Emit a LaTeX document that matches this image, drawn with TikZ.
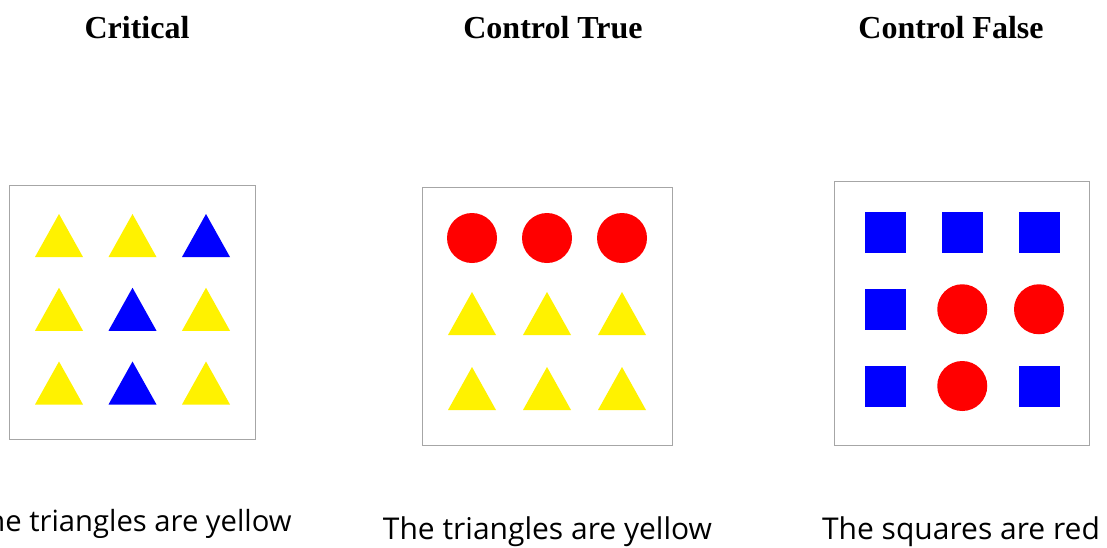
\documentclass[tikz,border=0pt]{standalone}
\usepackage{fontspec}
\usepackage{tikz}
\usetikzlibrary{positioning, shapes.geometric}
\newfontfamily\headfont{Liberation Serif}
\newfontfamily\capfont{Open Sans}
\tikzset{
  title/.style={anchor=base, inner sep=0pt, font=\headfont\fontsize{16}{19}\selectfont\bfseries},
  caption/.style={anchor=base, inner sep=0pt, text=black, font=\capfont\fontsize{15}{18}\selectfont},
  panel/.style={draw=black!35, line width=0.5pt, fill=white},
  dot/.style={circle, fill=red, inner sep=0pt, minimum size=25pt},
  sq/.style={rectangle, fill=blue, inner sep=0pt, minimum size=20.5pt},
  pics/tri/.style={code={
    \fill[pic actions] (-24,21.5) -- (24,21.5) -- (0,-21.5) -- cycle;
  }}
}

\begin{document}
\begin{tikzpicture}[x=0.5pt, y=-0.5pt]
  \useasboundingbox (0,0) rectangle (1107,547);
  \clip (0,0) rectangle (1107,547);

  % titles
  \node[title] (tcrit) at (137,38) {Critical};
  \node[title] (ttrue) at (553,38) {Control True};
  \node[title] (tfalse) at (951,38) {Control False};

  % panel 1
  \draw[panel] (9,185) rectangle (255,439);
  \foreach \c/\r/\col in {1/1/yellow, 2/1/yellow, 3/1/blue,
                          1/2/yellow, 2/2/blue, 3/2/yellow,
                          1/3/yellow, 2/3/blue, 3/3/yellow}
    \pic[fill=\col] (crit-\c-\r) at ({59+73.5*(\c-1)}, {235.5+73.75*(\r-1)}) {tri};

  % panel 2
  \draw[panel] (422,187) rectangle (672,445);
  \foreach \c in {1,2,3} {
    \node[dot] (tr-\c-1) at ({472+75*(\c-1)}, 238) {};
    \pic[fill=yellow] (tr-\c-2) at ({472+75*(\c-1)}, 313.5) {tri};
    \pic[fill=yellow] (tr-\c-3) at ({472+75*(\c-1)}, 388.5) {tri};
  }

  % panel 3
  \draw[panel] (834,181) rectangle (1089,445);
  \foreach \c/\r/\kind in {1/1/sq, 2/1/sq, 3/1/sq,
                           1/2/sq, 2/2/dot, 3/2/dot,
                           1/3/sq, 2/3/dot, 3/3/sq}
    \node[\kind] (fa-\c-\r) at ({885.5+76.75*(\c-1)}, {232.5+76.75*(\r-1)}) {};

  % captions
  \node[caption, anchor=base east, font=\capfont\fontsize{14.6}{18}\selectfont]
    (ccrit) at (292,531) {The triangles are yellow};
  \node[caption] (ctrue) at (547.5,539) {The triangles are yellow};
  \node[caption] (cfalse) at (961,539) {The squares are red};
\end{tikzpicture}
\end{document}
